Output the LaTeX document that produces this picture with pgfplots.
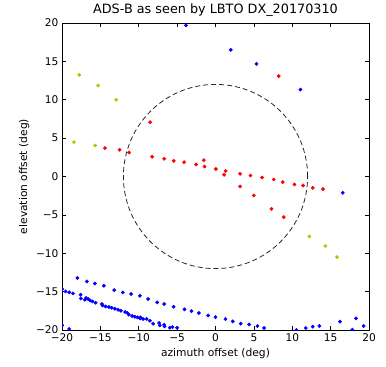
\documentclass[border=0pt]{standalone}
\usepackage{fontspec}
\setmainfont{DejaVu Sans}
\usepackage{pgfplots}
\pgfplotsset{compat=1.18}
\definecolor{mplyellow}{rgb}{0.75,0.75,0}
\begin{document}
\begin{tikzpicture}
\begin{axis}[
  scale only axis, width=307pt, height=307pt,
  xmin=-20, xmax=20, ymin=-20, ymax=20,
  xtick={-20,-15,...,20}, ytick={-20,-15,...,20},
  xticklabels={−20,−15,−10,−5,0,5,10,15,20},
  yticklabels={−20,−15,−10,−5,0,5,10,15,20},
  tick align=inside, xtick pos=both, ytick pos=both,
  major tick length=4pt,
  tick style={black, line width=0.6pt},
  axis line style={black, line width=0.8pt},
  title={ADS-B as seen by LBTO DX\_20170310},
  title style={font=\fontsize{12.8}{14}\selectfont, yshift=-3pt},
  xlabel={azimuth offset (deg)}, ylabel={elevation offset (deg)},
  label style={font=\fontsize{10.7}{12}\selectfont},
  tick label style={font=\fontsize{10.6}{12}\selectfont},
  clip marker paths=true,
]
\draw[black!85, line width=0.8pt, dash pattern=on 5pt off 3pt] (axis cs:0,0) circle [radius=12];
\addplot[only marks, mark=*, mark size=1.7pt, color=blue, mark options={draw=none, fill=blue}] coordinates {
(-3.84,19.7) (1.99,16.5) (5.34,14.67) (11.07,11.33) (16.58,-2.12)
(-18.0,-13.23) (-16.76,-13.67) (-15.72,-13.93) (-14.54,-14.23) (-13.2,-14.8) (-12.07,-15.1) (-10.99,-15.31) (-9.85,-15.55) (-8.78,-15.96) (-7.6,-16.4) (-6.69,-16.62) (-5.47,-16.97) (-4.04,-17.32) (-3.13,-17.53) (-2.17,-17.79) (-0.96,-18.1) (0,-18.31) (1.3,-18.57) (2.25,-18.88) (3.29,-19.18) (4.38,-19.27) (5.47,-19.48) (6.33,-19.74) (8.5,-20.1) (9.46,-20.1) (10.55,-20.0) (11.76,-19.74) (12.67,-19.57) (13.54,-19.48) (16.22,-18.92) (17.45,-20.1) (17.84,-19.96) (18.31,-18.49) (19.31,-19.48)
(-19.97,-14.66) (-19.53,-14.97) (-19.06,-15.1) (-18.58,-15.23) (-17.58,-15.4) (-17.54,-15.89) (-17.02,-16.05) (-16.85,-15.83) (-16.59,-15.97) (-16.33,-16.15) (-16.02,-16.28) (-15.63,-16.45) (-14.8,-16.62) (-14.71,-16.8) (-14.32,-16.93) (-13.89,-17.0) (-13.54,-17.1) (-13.11,-17.23) (-12.68,-17.36) (-12.33,-17.49) (-11.77,-17.66) (-11.46,-17.79) (-11.29,-18.0) (-10.86,-18.18) (-10.51,-18.27) (-10.16,-18.36) (-9.82,-18.49) (-9.77,-18.36) (-9.43,-18.57) (-8.98,-18.57) (-8.55,-18.79) (-8.12,-19.18) (-7.34,-19.09) (-7.25,-19.4) (-6.69,-19.31) (-6.64,-19.53) (-5.95,-19.7) (-5.6,-19.61) (-5.34,-20.09) (-5.0,-19.7) (-4.87,-20.1) (-3.78,-20.1) (-19.97,-19.4) (-19.06,-19.87) (-18.1,-20.1)
};
\addplot[only marks, mark=*, mark size=1.7pt, color=red, mark options={draw=none, fill=red}] coordinates {
(-14.41,3.70) (-12.5,3.48) (-11.25,3.13) (-8.52,7.08) (-8.26,2.57) (-6.69,2.30) (-5.43,2.04) (-4.09,1.87) (-2.53,1.56) (-1.52,2.13) (-1.43,1.30) (0.06,0.98) (1.32,0.72) (1.12,0.22) (3.2,0.35) (3.2,-1.30) (4.56,0.13) (4.99,-2.47) (6.07,-0.13) (7.29,-4.21) (7.59,-0.39) (8.76,-0.73) (8.89,-5.29) (10.29,-1.04) (11.41,-1.17) (12.67,-1.47) (14.01,-1.64) (8.24,13.07)
};
\addplot[only marks, mark=*, mark size=1.7pt, color=mplyellow, mark options={draw=none, fill=mplyellow}] coordinates {
(-17.76,13.24) (-15.29,11.85) (-12.94,9.99) (-18.45,4.48) (-15.68,4.04) (12.24,-7.81) (14.32,-9.06) (15.83,-10.5)
};
\end{axis}
\path (current axis.south west) ++(-62pt,-36pt) rectangle ([shift={(17pt,23pt)}]current axis.north east);
\end{tikzpicture}
\end{document}
